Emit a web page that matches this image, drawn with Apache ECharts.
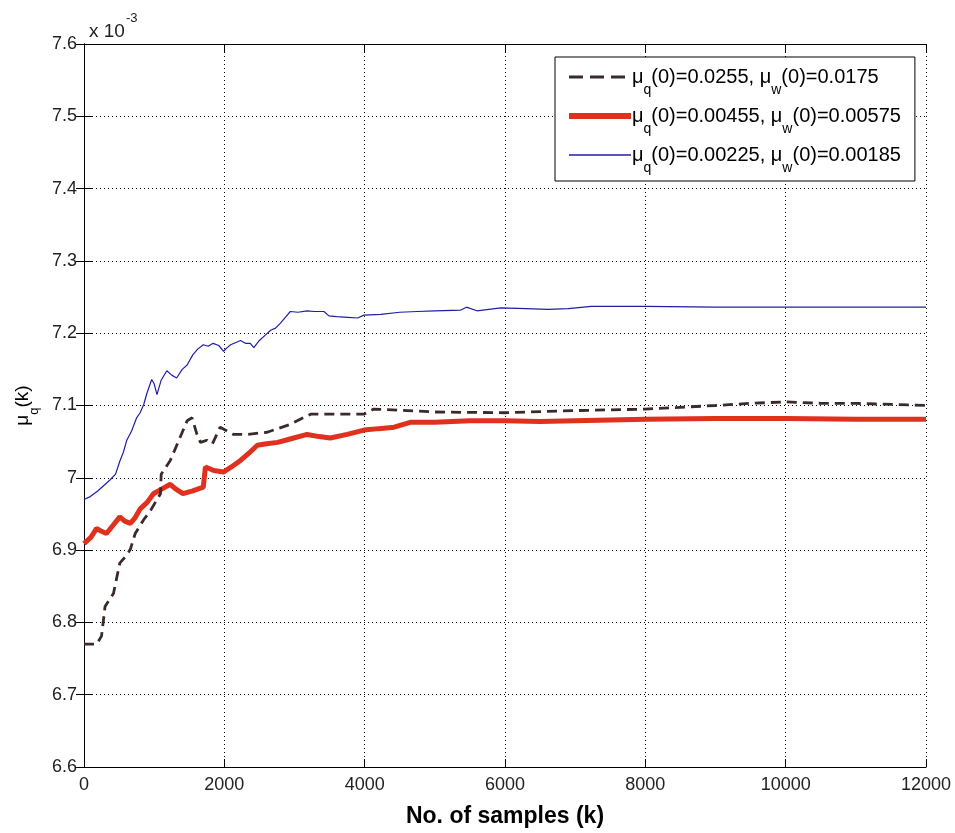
<!DOCTYPE html>
<html>
<head>
<meta charset="utf-8">
<script src="https://cdn.jsdelivr.net/npm/echarts@6/dist/echarts.min.js"></script>
<style>html,body{margin:0;padding:0;background:#fff}#c{width:955px;height:833px}</style>
</head>
<body>
<div id="c"></div>
<script>
// Values in units of 1e-3
const xTicks = [0, 2000, 4000, 6000, 8000, 10000, 12000];
const yTicks = [6.6, 6.7, 6.8, 6.9, 7.0, 7.1, 7.2, 7.3, 7.4, 7.5, 7.6];

const blackK = [0, 180, 250, 300, 420, 510, 600, 660, 730, 850, 950, 1090, 1100, 1230, 1370, 1470, 1540, 1610, 1660, 1750, 1830, 1940, 2130, 2320, 2610, 2940, 3230, 3700, 3990, 4130, 4610, 5000, 6000, 7000, 8000, 9000, 9500, 10000, 10500, 11000, 12000];
const blackV = [6.770, 6.770, 6.781, 6.822, 6.840, 6.882, 6.892, 6.901, 6.923, 6.942, 6.955, 6.978, 7.005, 7.024, 7.056, 7.079, 7.083, 7.060, 7.049, 7.052, 7.047, 7.070, 7.060, 7.060, 7.063, 7.074, 7.088, 7.088, 7.088, 7.095, 7.093, 7.091, 7.090, 7.093, 7.095, 7.100, 7.103, 7.105, 7.103, 7.103, 7.100];

const redK = [0, 100, 180, 250, 320, 420, 510, 580, 660, 730, 800, 900, 990, 1100, 1230, 1300, 1410, 1550, 1700, 1730, 1850, 1990, 2100, 2230, 2350, 2470, 2600, 2760, 2950, 3180, 3350, 3510, 3750, 3990, 4200, 4420, 4660, 5000, 5500, 6000, 6500, 7000, 8000, 9000, 10000, 11000, 12000];
const redV = [6.909, 6.918, 6.930, 6.926, 6.923, 6.935, 6.946, 6.940, 6.937, 6.945, 6.957, 6.966, 6.978, 6.984, 6.991, 6.985, 6.978, 6.982, 6.987, 7.015, 7.010, 7.008, 7.015, 7.024, 7.034, 7.045, 7.047, 7.049, 7.054, 7.060, 7.057, 7.055, 7.060, 7.066, 7.068, 7.070, 7.077, 7.077, 7.079, 7.079, 7.078, 7.079, 7.081, 7.082, 7.082, 7.081, 7.081];

const blueK = [0, 90, 200, 370, 450, 514, 560, 610, 680, 750, 800, 850, 900, 965, 1000, 1040, 1100, 1180, 1250, 1320, 1400, 1470, 1550, 1620, 1700, 1770, 1840, 1920, 1990, 2040, 2090, 2230, 2300, 2370, 2420, 2500, 2580, 2660, 2730, 2800, 2870, 2940, 3050, 3180, 3280, 3420, 3490, 3600, 3760, 3900, 3990, 4230, 4500, 4750, 5000, 5370, 5450, 5600, 5940, 6300, 6610, 6900, 7230, 8000, 9000, 10000, 11000, 12000];
const blueV = [6.970, 6.974, 6.982, 6.997, 7.005, 7.024, 7.035, 7.052, 7.065, 7.083, 7.090, 7.101, 7.118, 7.136, 7.130, 7.115, 7.135, 7.148, 7.142, 7.138, 7.150, 7.156, 7.170, 7.178, 7.184, 7.182, 7.186, 7.183, 7.175, 7.180, 7.184, 7.190, 7.186, 7.186, 7.180, 7.190, 7.197, 7.204, 7.207, 7.214, 7.222, 7.230, 7.229, 7.231, 7.230, 7.230, 7.224, 7.223, 7.222, 7.221, 7.225, 7.226, 7.229, 7.230, 7.231, 7.232, 7.236, 7.231, 7.235, 7.234, 7.233, 7.234, 7.237, 7.237, 7.236, 7.236, 7.236, 7.236];

const seriesNames = ['black', 'red', 'blue'];
const legendLabels = {
  black: ['0.0255', '0.0175'],
  red: ['0.00455', '0.00575'],
  blue: ['0.00225', '0.00185']
};

const zip = (a, b) => a.map((k, i) => [k, b[i]]);
const FONT = '"Liberation Sans", Arial, sans-serif';

const chart = echarts.init(document.getElementById('c'), null, {renderer: 'canvas'});

const subRich = {
  t: {fontFamily: FONT, fontSize: 20, color: '#000'},
  s: {fontFamily: FONT, fontSize: 14, color: '#000', verticalAlign: 'bottom', padding: [0, 0, -10, 0]}
};

const axisCommon = {
  axisLine: {show: true, lineStyle: {color: '#000', width: 1}},
  axisTick: {show: true, inside: true, length: 8, lineStyle: {color: '#000'}},
};

const colors = {black: '#3a2b2b', red: '#e0301e', blue: '#1f1fa6'};
const legendLine = {
  black: {color: colors.black, width: 2.8, type: [14, 7]},
  red: {color: colors.red, width: 6, type: 'solid'},
  blue: {color: colors.blue, width: 1.3, type: 'solid'}
};

chart.setOption({
  animation: false,
  backgroundColor: '#fff',
  title: {
    text: '{a|x 10}{b|-3}',
    left: 84, top: 17,
    textStyle: {
      fontWeight: 'normal',
      rich: {
        a: {fontFamily: FONT, fontSize: 19, color: '#222', fontWeight: 'normal'},
        b: {fontFamily: FONT, fontSize: 13, color: '#222', fontWeight: 'normal', verticalAlign: 'top', padding: [-10, 0, 0, 1]}
      }
    }
  },
  grid: {left: 84, right: 29, top: 44, bottom: 61, containLabel: false},
  legend: {
    show: true,
    orient: 'vertical',
    left: 555, top: 57,
    backgroundColor: '#fff',
    borderColor: '#000', borderWidth: 1,
    padding: [10, 14, 6, 11],
    itemGap: 9,
    itemWidth: 62, itemHeight: 14,
    itemStyle: {opacity: 0},
    data: seriesNames.map(n => ({name: n, lineStyle: legendLine[n], itemStyle: {opacity: 0}})),
    formatter: (name) => {
      const v = legendLabels[name];
      return '{t|μ}{s|q}{t|(0)=' + v[0] + ', μ}{s|w}{t|(0)=' + v[1] + '}';
    },
    textStyle: {fontFamily: FONT, fontSize: 20, color: '#000', padding: [0, 0, 0, -4], rich: subRich}
  },
  xAxis: [{
    type: 'value', min: 0, max: 12000, interval: 2000,
    ...axisCommon,
    axisLabel: {fontFamily: FONT, fontSize: 18, color: '#222', margin: 9, formatter: (v) => String(v)},
    splitLine: {show: true, lineStyle: {color: '#000', type: [1, 3], width: 1}},
    name: 'No. of samples (k)', nameLocation: 'middle', nameGap: 38,
    nameTextStyle: {fontFamily: FONT, fontSize: 23, fontWeight: 'bold', color: '#000'}
  }, {
    type: 'value', min: 0, max: 12000, interval: 2000, position: 'top',
    ...axisCommon, axisLabel: {show: false}, splitLine: {show: false}
  }],
  yAxis: [{
    type: 'value', min: 6.6, max: 7.6, interval: 0.1,
    ...axisCommon,
    axisLabel: {fontFamily: FONT, fontSize: 18, color: '#222', margin: 7,
      formatter: (v) => { const r = Math.round(v * 10) / 10; return r === 7 ? '7' : r.toFixed(1); }},
    splitLine: {show: true, lineStyle: {color: '#000', type: [1, 3], width: 1}},
    name: '{t|μ}{s|q}{t|(k)}', nameLocation: 'middle', nameGap: 50, nameRotate: 90,
    nameTextStyle: {rich: {
      t: {fontFamily: FONT, fontSize: 19, color: '#000'},
      s: {fontFamily: FONT, fontSize: 13, color: '#000', verticalAlign: 'bottom', padding: [0, 0, -9, 0]}
    }}
  }, {
    type: 'value', min: 6.6, max: 7.6, interval: 0.1, position: 'right',
    ...axisCommon, axisLabel: {show: false}, splitLine: {show: false}
  }],
  series: [
    {name: 'black', type: 'line', data: zip(blackK, blackV), symbol: 'none', z: 3,
     lineStyle: {color: colors.black, width: 2.8, type: [10, 6]}, itemStyle: {color: colors.black}},
    {name: 'red', type: 'line', data: zip(redK, redV), symbol: 'none', z: 2,
     lineStyle: {color: colors.red, width: 5}, itemStyle: {color: colors.red}},
    {name: 'blue', type: 'line', data: zip(blueK, blueV), symbol: 'none', z: 4,
     lineStyle: {color: colors.blue, width: 1.2}, itemStyle: {color: colors.blue}}
  ]
});
</script>
</body>
</html>
